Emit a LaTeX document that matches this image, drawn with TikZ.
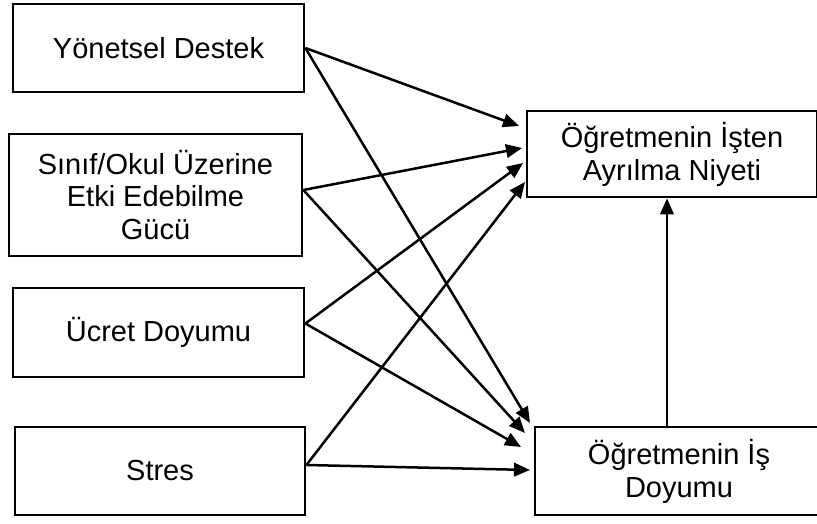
\documentclass[tikz,border=0pt]{standalone}
\usepackage{fontspec}
\setmainfont{Liberation Sans}
\usetikzlibrary{arrows.meta}
\begin{document}
\begin{tikzpicture}[x=1pt,y=-1pt,
  box/.style={draw,line width=2.8pt,align=center,inner sep=0pt,
    font=\fontsize{29}{33}\selectfont},
  link/.style={line width=2.5pt,-{Triangle[length=16pt,width=13.5pt]}}]
\useasboundingbox (0,0) rectangle (817,523);

% factors on the left
\node[box,minimum width=291,minimum height=88]  (b1) at (158.5,48)  {Yönetsel Destek};
\node[box,minimum width=293,minimum height=122] (b2) at (155.5,195) {Sınıf/Okul Üzerine\\Etki Edebilme\\Gücü};
\node[box,minimum width=291,minimum height=89]  (b3) at (158.5,332.5) {Ücret Doyumu};
\node[box,minimum width=290,minimum height=88]  (b4) at (160,471)   {Stres};

% outcomes on the right
\node[box,minimum width=290,minimum height=86]  (b5) at (672,154) {Öğretmenin İşten\\Ayrılma Niyeti};
\node[box,minimum width=288,minimum height=88]  (b6) at (679,471) {Öğretmenin İş\\Doyumu};

% arrow ends in front of the outcome boxes
\coordinate (n1) at (519,126);
\coordinate (n2) at (522,148);
\coordinate (n3) at (523,163);
\coordinate (n4) at (525,182);
\coordinate (d1) at (530,423);
\coordinate (d2) at (525,433);
\coordinate (d3) at (521,447);
\coordinate (d4) at (530,470);

\draw[link] (b1.east) -- (n1);
\draw[link] (b1.east) -- (d1);
\draw[link] ([yshift=5pt]b2.east) -- (n2);
\draw[link] ([yshift=5pt]b2.east) -- (d2);
\draw[link] ([yshift=9pt]b3.east) -- (n3);
\draw[link] ([yshift=9pt]b3.east) -- (d3);
\draw[link] ([yshift=6pt]b4.east) -- (n4);
\draw[link] ([yshift=6pt]b4.east) -- (d4);

% job satisfaction feeds intention to leave
\draw[link] ([xshift=-12pt]b6.north) -- ([xshift=-5pt]b5.south);
\end{tikzpicture}
\end{document}
